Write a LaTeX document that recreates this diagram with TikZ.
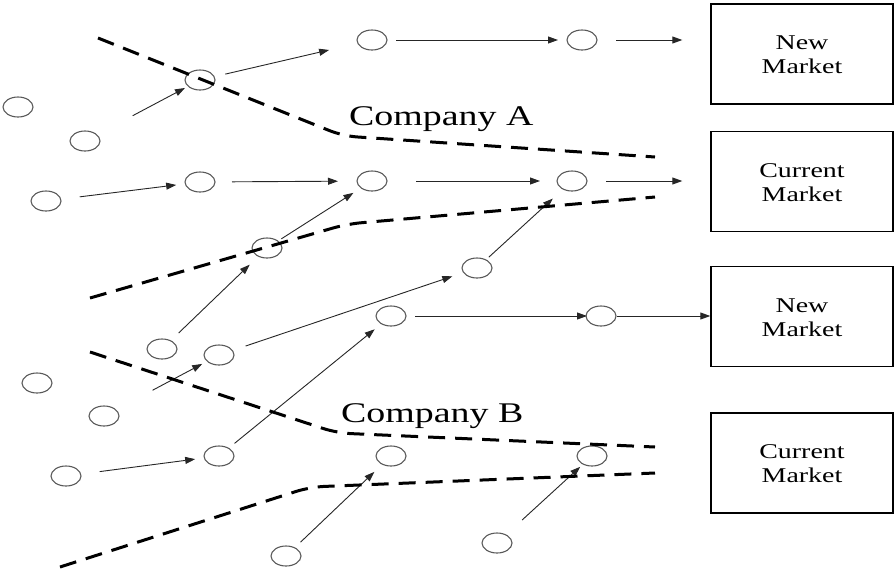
\documentclass[tikz,border=0pt]{standalone}
\usepackage{fontspec}
\setmainfont{Liberation Serif}
\usetikzlibrary{arrows.meta,shapes.geometric}
\newcommand{\mktext}[1]{\scalebox{1.33}[1]{\begin{tabular}{@{}c@{}}\rule{0pt}{22.8pt}#1\end{tabular}}}
\begin{document}
\begin{tikzpicture}[x=1pt,y=-1pt,
  firm/.style={ellipse,draw=black!65,line width=1.1pt,minimum width=30pt,minimum height=20pt,inner sep=0pt},
  mbox/.style={draw=black,line width=1.4pt,minimum width=182pt,minimum height=100pt,inner sep=0pt,font=\fontsize{21}{24}\selectfont},
  arr/.style={draw=black!85,line width=0.9pt,-{Triangle[length=10pt,width=7pt]}},
  bound/.style={draw=black,line width=3pt,dash pattern=on 17pt off 10pt,rounded corners=14pt},
  comp/.style={anchor=base west,inner sep=0pt,font=\fontsize{28.5}{30}\selectfont}]
\useasboundingbox (0,0) rectangle (894,576);
% firms
\node[firm] (c1) at (18,107) {};
\node[firm] (c2) at (85,141) {};
\node[firm] (c3) at (46,201) {};
\node[firm] (c4) at (200,80) {};
\node[firm] (c5) at (372,40) {};
\node[firm] (c6) at (582,40) {};
\node[firm] (c7) at (200,182) {};
\node[firm] (c8) at (372,181) {};
\node[firm] (c9) at (572,181) {};
\node[firm] (c10) at (267,248) {};
\node[firm] (c11) at (477,268) {};
\node[firm] (c12) at (162,349) {};
\node[firm] (c13) at (219,355) {};
\node[firm] (c14) at (391,316) {};
\node[firm] (c15) at (601,316) {};
\node[firm] (c16) at (37,383) {};
\node[firm] (c17) at (104,416) {};
\node[firm] (c18) at (66,476) {};
\node[firm] (c19) at (219,456) {};
\node[firm] (c20) at (391,456) {};
\node[firm] (c21) at (592,456) {};
\node[firm] (c22) at (286,556) {};
\node[firm] (c23) at (497,543) {};
% markets
\node[mbox] (b1) at (802,54) {\mktext{New\\Market}};
\node[mbox] (b2) at (802,181.5) {\mktext{Current\\Market}};
\node[mbox] (b3) at (802,316.5) {\mktext{New\\Market}};
\node[mbox] (b4) at (802,463) {\mktext{Current\\Market}};
% company labels
\node[comp] (ca) at (349,125) {\scalebox{1.33}[1]{Company A}};
\node[comp] (cb) at (341,422) {\scalebox{1.33}[1]{Company B}};
% arrows
\draw[arr,shorten <=54pt,shorten >=17pt] (c2.center) -- (c4.center);
\draw[arr,shorten <=26pt,shorten >=44pt] (c4.center) -- (c5.center);
\draw[arr,shorten <=24pt,shorten >=24pt] (c5.center) -- (c6.center);
\draw[arr,shorten <=34pt,shorten >=28pt] (c6.center) -- (c6.center -| b1.west);
\draw[arr,shorten <=34pt,shorten >=24pt] (c3.center) -- (c7.center);
\draw[arr,shorten <=32pt,shorten >=34pt] (c7.center) -- (c8.center);
\draw[arr,shorten <=44pt,shorten >=32pt] (c8.center) -- (c9.center);
\draw[arr,shorten <=34pt,shorten >=28pt] (c9.center) -- (c9.center -| b2.west);
\draw[arr,shorten <=17pt,shorten >=22pt] (c10.center) -- (c8.center);
\draw[arr,shorten <=23pt,shorten >=24pt] (c12.center) -- (c10.center);
\draw[arr,shorten <=28pt,shorten >=26pt] (c13.center) -- (c11.center);
\draw[arr,shorten <=16pt,shorten >=26pt] (c11.center) -- (c9.center);
\draw[arr,shorten <=55pt,shorten >=19pt] (c17.center) -- (c13.center);
\draw[arr,shorten <=24pt,shorten >=14pt] (c14.center) -- (c15.center);
\draw[arr,shorten <=16pt] (c15.center) -- (c15.center -| b3.west);
\draw[arr,shorten <=34pt,shorten >=24pt] (c18.center) -- (c19.center);
\draw[arr,shorten <=20pt,shorten >=21pt] (c19.center) -- (c14.center);
\draw[arr,shorten <=20pt,shorten >=23pt] (c22.center) -- (c20.center);
\draw[arr,shorten <=34pt,shorten >=16pt] (c23.center) -- (c21.center);
% company boundaries
\draw[bound] (98,38) -- (343,136) -- (655,157);
\draw[bound] (90,298) -- (347,224) -- (655,197);
\draw[bound] (90,352) -- (337,433) -- (655,447);
\draw[bound] (60,567) -- (310,487) -- (655,473);
\end{tikzpicture}
\end{document}
